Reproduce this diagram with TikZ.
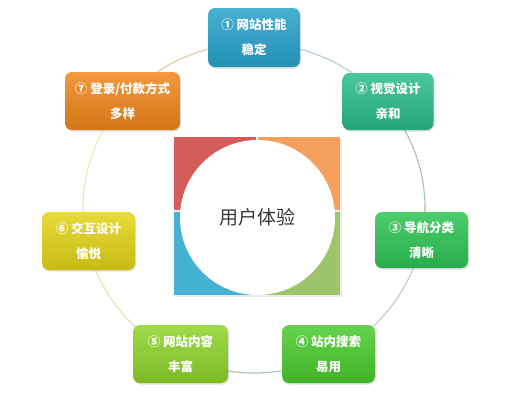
\documentclass[tikz,border=0pt]{standalone}
\usepackage{fontspec}
\newfontfamily\cjk{Noto Sans CJK SC}
\usetikzlibrary{shadows,calc}
\definecolor{c1}{HTML}{27A3CC}
\definecolor{c2}{HTML}{2ABD8A}
\definecolor{c3}{HTML}{2EC453}
\definecolor{c4}{HTML}{4ACB2C}
\definecolor{c5}{HTML}{8ED42A}
\definecolor{c6}{HTML}{E3D418}
\definecolor{c7}{HTML}{F0861C}
\definecolor{qr}{HTML}{D45C5C}
\definecolor{qo}{HTML}{F5A05C}
\definecolor{qb}{HTML}{45B2D3}
\definecolor{qg}{HTML}{9DC46B}
\definecolor{r71}{HTML}{E6C9A2}
\definecolor{r12}{HTML}{B9CCD6}
\definecolor{r23}{HTML}{A6BCC6}
\definecolor{r34}{HTML}{B8CDBA}
\definecolor{r45}{HTML}{A9C2A9}
\definecolor{r56}{HTML}{DDE6B4}
\definecolor{r67}{HTML}{EEEBBA}
\tikzset{
  ubox/.style n args={3}{rounded corners=7pt, minimum width=#1pt, minimum height=#2pt,
    top color=#3!85!white, bottom color=#3!88!black, inner sep=0pt,
    drop shadow={opacity=0.25, shadow xshift=0.8pt, shadow yshift=-1.5pt},
    align=center, text=white, font=\cjk\bfseries\fontsize{12.5}{25}\selectfont},
  ring/.style={line width=1.1pt}
}
\begin{document}
\begin{tikzpicture}[x=1pt,y=-1pt]
\useasboundingbox (0,0) rectangle (530,400);
\fill[white] (0,0) rectangle (530,400);
% ring
\draw[ring, r71] plot[domain=-141:-90, samples=40] ({254+171*cos(\x)}, {208+165*sin(\x)});
\draw[ring, r12] plot[domain=-90:-38.5, samples=40] ({254+171*cos(\x)}, {208+165*sin(\x)});
\draw[ring, r23] plot[domain=-38.5:10.8, samples=40] ({254+171*cos(\x)}, {208+165*sin(\x)});
\draw[ring, r34] plot[domain=10.8:63, samples=40] ({254+171*cos(\x)}, {208+165*sin(\x)});
\draw[ring, r45] plot[domain=63:117, samples=40] ({254+171*cos(\x)}, {208+165*sin(\x)});
\draw[ring, r56] plot[domain=117:191, samples=40] ({254+171*cos(\x)}, {208+165*sin(\x)});
\draw[ring, r67] plot[domain=191:219, samples=40] ({254+171*cos(\x)}, {208+165*sin(\x)});
% center square
\fill[black!8] (175,138.5) rectangle (341.5,296.5);
\fill[qr] (174,137) rectangle (256,210);
\fill[qo] (258,137) rectangle (340,210);
\fill[qb] (174,212) rectangle (256,295);
\fill[qg] (258,212) rectangle (340,295);
\node[circle, fill=white, minimum size=155pt, inner sep=0pt,
      font=\cjk\fontsize{19}{22}\selectfont, text=black!78] (hub) at (257.5,217.5) {用户体验};
% boxes
\node[ubox={92}{59}{c1}] (b1) at (254,37.5) {① 网站性能\\稳定};
\node[ubox={91}{57}{c2}] (b2) at (388,101.5) {② 视觉设计\\亲和};
\node[ubox={93}{56}{c3}] (b3) at (421.5,240) {③ 导航分类\\清晰};
\node[ubox={93}{58}{c4}] (b4) at (328.5,354) {④ 站内搜索\\易用};
\node[ubox={95}{58}{c5}] (b5) at (180.5,354) {⑤ 网站内容\\丰富};
\node[ubox={93}{58}{c6}] (b6) at (88.5,241) {⑥ 交互设计\\愉悦};
\node[ubox={115}{58}{c7}] (b7) at (122.5,101) {⑦ 登录/付款方式\\多样};
\end{tikzpicture}
\end{document}
